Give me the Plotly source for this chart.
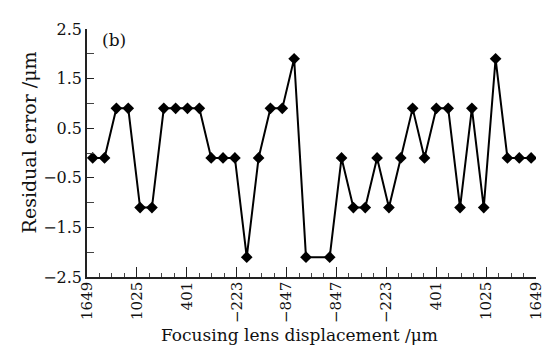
import plotly.graph_objects as go

# sample slot index along the scan (slot 19 has no measurement)
sample_index = [0, 1, 2, 3, 4, 5, 6, 7, 8, 9, 10, 11, 12, 13, 14, 15, 16, 17, 18,
                20, 21, 22, 23, 24, 25, 26, 27, 28, 29, 30, 31, 32, 33, 34, 35, 36, 37]
residual_error = [-0.1, -0.1, 0.9, 0.9, -1.1, -1.1, 0.9, 0.9, 0.9, 0.9,
                  -0.1, -0.1, -0.1, -2.1, -0.1, 0.9, 0.9, 1.9, -2.1,
                  -2.1, -0.1, -1.1, -1.1, -0.1, -1.1, -0.1, 0.9, -0.1, 0.9,
                  0.9, -1.1, 0.9, -1.1, 1.9, -0.1, -0.1, -0.1]
x_tick_labels = ["1649", "1025", "401", "\u2212223", "\u2212847",
                 "\u2212847", "\u2212223", "401", "1025", "1649"]
x_title = "Focusing lens displacement /\u03bcm"
y_title = "Residual error /\u03bcm"
panel_label = "(b)"

x_start = -0.48
x_step = 4.21
x_tickvals = [x_start + x_step * k for k in range(len(x_tick_labels))]
x_end = x_tickvals[-1]

FONT = "DejaVu Serif"
INK = "#111"

fig = go.Figure()
fig.add_trace(go.Scatter(
    x=sample_index, y=residual_error, mode="lines+markers",
    line=dict(color="black", width=2),
    marker=dict(symbol="diamond", size=9, color="black"),
    showlegend=False,
))

fig.update_layout(
    width=550, height=348,
    margin=dict(l=79, r=22, t=13, b=79),
    paper_bgcolor="white", plot_bgcolor="white",
    font=dict(family=FONT, size=15, color=INK),
    xaxis=dict(
        range=[x_start, x_end],
        tickmode="array", tickvals=x_tickvals, ticktext=x_tick_labels,
        tickangle=-90, ticks="inside", ticklen=10, tickwidth=1.2, tickcolor="#222",
        ticklabelstandoff=-3,
        minor=dict(ticks="inside", ticklen=4, tickwidth=1, tickcolor="#444",
                   tick0=x_start, dtick=x_step / 4),
        showline=True, linecolor="#222", linewidth=1.5,
        showgrid=False, zeroline=False,
        tickfont=dict(family=FONT, size=15, color=INK),
    ),
    yaxis=dict(
        range=[-2.5, 2.5],
        tickmode="linear", tick0=2.5, dtick=1,
        ticks="inside", ticklen=7, tickwidth=1.2, tickcolor="#222",
        minor=dict(ticks="inside", ticklen=7, tickwidth=1, tickcolor="#444",
                   tick0=2.0, dtick=0.5),
        showline=True, linecolor="#222", linewidth=1.5,
        showgrid=False, zeroline=False,
        tickfont=dict(family=FONT, size=16, color=INK),
    ),
    annotations=[
        dict(text=panel_label, xref="paper", yref="paper", x=0.029, y=0.957,
             xanchor="left", yanchor="middle", showarrow=False,
             font=dict(family=FONT, size=17, color=INK)),
        dict(text=x_title, xref="paper", yref="paper", x=0.473, y=-0.235,
             xanchor="center", yanchor="middle", showarrow=False,
             font=dict(family=FONT, size=17, color=INK)),
        dict(text=y_title, xref="paper", yref="paper", x=-0.129, y=0.543,
             xanchor="center", yanchor="middle", showarrow=False, textangle=-90,
             font=dict(family=FONT, size=19, color=INK)),
    ],
)

fig.write_html("out.html")
